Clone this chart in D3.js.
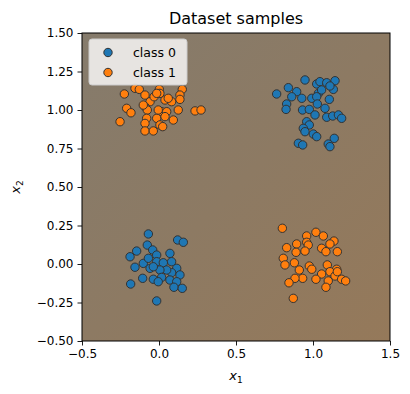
<!DOCTYPE html>
<html>
<head>
<meta charset="utf-8">
<script src="https://cdn.jsdelivr.net/npm/d3@7"></script>
<style>
  body { margin: 0; background: #fff; }
  svg text { font-family: "DejaVu Sans", sans-serif; fill: #000; }
</style>
</head>
<body>
<div id="chart"></div>
<script>
// class 0 samples: clusters around (0,0) and (1,1)
var class0X = [
  -0.069, 0.121, 0.158, -0.076, -0.145, -0.188, -0.041, -0.015, 0.071, -0.102,
  -0.069, -0.156, -0.058, -0.015, 0.028, 0.082, 0.115, 0.136, 0.082, 0.050,
  0.006, -0.037, -0.106, -0.037, 0.017, 0.071, 0.115, -0.184, 0.097, 0.151,
  -0.015, -0.005,
  0.764, 0.840, 0.894, 0.862, 0.948, 1.024, 1.045, 1.089, 1.143, 1.132,
  1.110, 1.035, 0.927, 0.992, 1.024, 0.829, 0.825, 0.932, 0.976, 1.028,
  1.106, 1.078, 1.013, 1.089, 1.128, 1.165, 1.186, 0.959, 0.976, 0.937,
  0.948, 1.002, 1.024, 0.905, 0.933, 1.099, 1.138, 1.110, 1.056
];
var class0Y = [
  0.195, 0.156, 0.141, 0.123, 0.084, 0.047, 0.091, 0.058, 0.069, 0.004,
  0.037, -0.021, -0.028, 0.015, 0.008, 0.015, -0.028, -0.071, -0.056, -0.039,
  -0.039, -0.018, -0.093, -0.099, -0.087, -0.104, -0.115, -0.130, -0.151, -0.158,
  -0.240, -0.115,
  1.104, 1.145, 1.119, 1.086, 1.195, 1.169, 1.184, 1.177, 1.190, 1.134,
  1.156, 1.108, 1.076, 1.076, 1.086, 1.039, 1.004, 1.000, 1.004, 1.039,
  1.069, 1.011, 0.968, 0.953, 0.961, 0.968, 0.946, 0.924, 0.903, 0.881,
  0.859, 0.844, 0.827, 0.784, 0.773, 0.779, 0.816, 0.762, 1.130
];

// class 1 samples: clusters around (0,1) and (1,0)
var class1X = [
  -0.225, -0.156, -0.128, 0.002, 0.006, 0.151, 0.136, -0.091, -0.058, -0.032,
  -0.015, 0.039, 0.082, 0.136, -0.210, -0.182, -0.091, -0.076, 0.017, 0.050,
  0.125, 0.234, 0.273, -0.253, -0.080, -0.015, 0.039, 0.093, -0.091, 0.006,
  -0.091, -0.037, 0.024, -0.102, 0.060, -0.005,
  0.801, 0.959, 1.019, 1.067, 1.136, 1.110, 1.056, 1.084, 1.158, 0.829,
  0.894, 0.959, 0.969, 0.890, 0.948, 0.807, 0.818, 0.879, 0.911, 0.976,
  0.992, 1.093, 1.154, 1.110, 1.056, 1.143, 1.186, 1.212, 1.099, 1.019,
  0.933, 0.883, 0.844, 1.084, 0.872, 1.158
];
var class1Y = [
  1.104, 1.141, 1.134, 1.134, 1.108, 1.134, 1.097, 1.097, 1.054, 1.086,
  1.108, 1.065, 1.054, 1.069, 1.011, 0.982, 1.022, 1.000, 0.989, 0.989,
  1.000, 0.994, 1.000, 0.924, 0.946, 0.946, 0.957, 0.935, 0.913, 0.903,
  0.864, 0.864, 0.892, 1.032, 1.076, 1.000,
  0.232, 0.182, 0.206, 0.182, 0.149, 0.130, 0.102, 0.080, 0.080, 0.106,
  0.130, 0.141, 0.123, 0.076, 0.084, 0.037, -0.006, 0.008, -0.039, -0.013,
  -0.034, -0.006, -0.034, -0.050, -0.065, -0.078, -0.099, -0.110, -0.110, -0.099,
  -0.093, -0.093, -0.122, -0.151, -0.223, -0.050
];

var classNames = ["class 0", "class 1"];
var classColors = ["#1f77b4", "#ff7f0e"];
var tickValuesX = [-0.5, 0.0, 0.5, 1.0, 1.5];
var tickValuesY = [-0.5, -0.25, 0.0, 0.25, 0.5, 0.75, 1.0, 1.25, 1.5];

var width = 410;
var height = 394;
var margin = { left: 82, top: 33, right: 20, bottom: 53 };
var plotW = width - margin.left - margin.right;
var plotH = height - margin.top - margin.bottom;

var svg = d3.select("#chart")
  .append("svg")
    .attr("width", width)
    .attr("height", height);

var x = d3.scaleLinear().domain([-0.5, 1.5]).range([margin.left, margin.left + plotW]);
var y = d3.scaleLinear().domain([-0.5, 1.5]).range([margin.top + plotH, margin.top]);

// Background shading (model output, nearly flat)
var grad = svg.append("defs").append("linearGradient")
  .attr("id", "bg")
  .attr("x1", "0%").attr("y1", "0%")
  .attr("x2", "100%").attr("y2", "100%");
grad.append("stop").attr("offset", "0%").attr("stop-color", "#857b6c");
grad.append("stop").attr("offset", "100%").attr("stop-color", "#95795a");

svg.append("rect")
  .attr("x", x(-0.5))
  .attr("y", y(1.5))
  .attr("width", x(1.5) - x(-0.5))
  .attr("height", y(-0.5) - y(1.5))
  .attr("fill", "url(#bg)");

function points(xs, ys, k) {
  svg.append("g")
    .selectAll("circle")
    .data(xs)
    .enter()
    .append("circle")
      .attr("cx", function (d) { return x(d); })
      .attr("cy", function (d, i) { return y(ys[i]); })
      .attr("r", 4.2)
      .attr("fill", classColors[k])
      .attr("stroke", "#333")
      .attr("stroke-width", 1);
}
points(class0X, class0Y, 0);
points(class1X, class1Y, 1);

// Axes
var xAxis = d3.axisBottom(x).tickValues(tickValuesX).tickSize(4.5).tickPadding(4)
  .tickFormat(function (d) { return d3.format(".1f")(d).replace("-", "\u2212"); });
var yAxis = d3.axisLeft(y).tickValues(tickValuesY).tickSize(4.5).tickPadding(4)
  .tickFormat(function (d) { return d3.format(".2f")(d).replace("-", "\u2212"); });

var gx = svg.append("g")
  .attr("transform", "translate(0," + y(-0.5) + ")")
  .call(xAxis);
var gy = svg.append("g")
  .attr("transform", "translate(" + x(-0.5) + ",0)")
  .call(yAxis);

[gx, gy].forEach(function (g) {
  g.select(".domain").remove();
  g.selectAll(".tick line").attr("stroke", "#000").attr("stroke-width", 0.9);
  g.selectAll(".tick text").attr("font-size", 12).attr("font-family", "DejaVu Sans");
});

// Frame
svg.append("rect")
  .attr("x", x(-0.5))
  .attr("y", y(1.5))
  .attr("width", x(1.5) - x(-0.5))
  .attr("height", y(-0.5) - y(1.5))
  .attr("fill", "none")
  .attr("stroke", "#000")
  .attr("stroke-width", 1);

// Labels
svg.append("text")
  .attr("x", (x(-0.5) + x(1.5)) / 2)
  .attr("y", 24)
  .attr("text-anchor", "middle")
  .attr("font-size", 16)
  .text("Dataset samples");

var xl = svg.append("text")
  .attr("x", (x(-0.5) + x(1.5)) / 2)
  .attr("y", 380)
  .attr("text-anchor", "middle")
  .attr("font-size", 13);
xl.append("tspan").attr("font-style", "italic").text("x");
xl.append("tspan").attr("font-size", 9).attr("dy", 3).text("1");

var yl = svg.append("text")
  .attr("transform", "translate(20," + (y(-0.5) + y(1.5)) / 2 + ") rotate(-90)")
  .attr("text-anchor", "middle")
  .attr("font-size", 13);
yl.append("tspan").attr("font-style", "italic").text("x");
yl.append("tspan").attr("font-size", 9).attr("dy", 3).text("2");

// Legend
var legend = svg.append("g").attr("transform", "translate(89,39)");
legend.append("rect")
  .attr("width", 98)
  .attr("height", 46)
  .attr("rx", 3)
  .attr("fill", "#fff")
  .attr("fill-opacity", 0.8)
  .attr("stroke", "#ccc")
  .attr("stroke-width", 1);

var items = legend.selectAll("g.item")
  .data(classNames)
  .enter()
  .append("g")
    .attr("class", "item")
    .attr("transform", function (d, i) { return "translate(0," + (13.5 + i * 20) + ")"; });
items.append("circle")
  .attr("cx", 19)
  .attr("r", 4.2)
  .attr("fill", function (d, i) { return classColors[i]; })
  .attr("stroke", "#333");
items.append("text")
  .attr("x", 44)
  .attr("dy", "0.35em")
  .attr("font-size", 12.5)
  .text(function (d) { return d; });
</script>
</body>
</html>
